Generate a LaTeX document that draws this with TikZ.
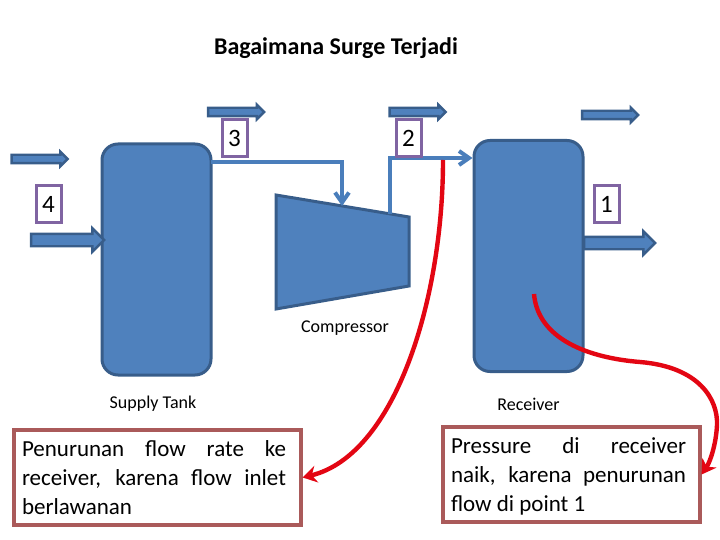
\documentclass[tikz,border=0pt]{standalone}
\usepackage{fontspec}
\setmainfont{Carlito}
\usetikzlibrary{arrows.meta,shapes.arrows}
\definecolor{tkblue}{HTML}{4F81BD}
\definecolor{tkedge}{HTML}{385D8A}
\definecolor{pipeblue}{HTML}{4A7EBB}
\definecolor{lblpurple}{HTML}{8064A2}
\definecolor{noteedge}{HTML}{AA5A5A}
\definecolor{curvered}{HTML}{E30613}

\begin{document}
\begin{tikzpicture}[x=1pt,y=-1pt,
      tank/.style={rounded corners=16pt,draw=tkedge,fill=tkblue,line width=3pt,
                  minimum width=109pt,minimum height=231pt},
      numbox/.style={draw=lblpurple,fill=white,line width=3pt,minimum width=25pt,
                  minimum height=37pt,inner sep=0pt,font=\fontsize{25}{25}\selectfont},
      note/.style={draw=noteedge,fill=white,line width=3.2pt,inner sep=0pt},
      unitname/.style={font=\fontsize{18}{18}\selectfont,inner sep=0pt},
      flowbig/.style={single arrow,draw=tkedge,fill=tkblue,line width=2.4pt,inner xsep=0pt,
                  inner ysep=5pt,minimum width=21pt,single arrow head extend=5.5pt,
                  single arrow head indent=0pt},
      flowthin/.style={single arrow,draw=tkedge,fill=tkblue,line width=2.4pt,inner xsep=0pt,
                  inner ysep=3pt,minimum width=12pt,minimum height=56pt,
                  single arrow head extend=3pt,single arrow head indent=0pt},
      pipe/.style={draw=pipeblue,line width=4pt,-{Straight Barb[length=10pt,width=14pt]}},
      redarr/.style={draw=curvered,line width=4.4pt,-{Stealth[length=14pt,width=17pt]}}]
    \useasboundingbox (0,0) rectangle (720,540);
    \node[font=\bfseries\fontsize{24}{24}\selectfont,inner sep=0pt] (title) at (336,48.5) {Bagaimana Surge Terjadi};
    \node[tank] (supply) at (156.5,259.5) {};
    \node[tank] (recv) at (528.5,256) {};
    \draw[draw=tkedge,fill=tkblue,line width=3pt] (276,195) -- (409,217) -- (409,286) -- (276,309) -- cycle;
    \coordinate (compin) at (342,206);
    \coordinate (compout) at (390,214);
    \coordinate (supout) at (211,162);
    \coordinate (curvestart) at (443,160);
    \coordinate (rcvpoint) at (534,294);
    \node[flowthin] (fl4) at (37.5,159) {};
    \node[flowthin] (fl3) at (234,112) {};
    \node[flowthin] (fl2) at (415.5,112) {};
    \node[flowthin] (fl1) at (608,115) {};
    \node[flowbig,minimum height=73pt] (in4) at (64.5,240) {};
    \node[flowbig,minimum height=71pt] (out1) at (616.5,243) {};
    \draw[pipe] (supout) -| (compin);
    \draw[pipe] (compout) |- (recv.west |- 0,158);
    \node[numbox] (n3) at (234.5,138.5) {3};
    \node[numbox] (n2) at (408.5,138) {2};
    \node[numbox] (n4) at (48.5,204.5) {4};
    \node[numbox] (n1) at (606.5,204) {1};
    \node[unitname] (compname) at (345,328) {Compressor};
    \node[unitname] (supname) at (153,404) {Supply Tank};
    \node[unitname] (recname) at (528.5,404) {Receiver};
    \node[note,minimum width=287pt,minimum height=95pt] (leftnote) at (157.5,477.5)
      {\hspace*{-3.5pt}\parbox{264pt}{\fontsize{23}{29}\selectfont Penurunan flow rate ke\linebreak receiver, karena flow inlet\linebreak berlawanan}\hspace*{3.5pt}};
    \node[note,minimum width=257pt,minimum height=95pt] (rightnote) at (571.5,474.5)
      {\hspace*{-3pt}\parbox{235pt}{\vspace*{4pt}\fontsize{23}{29}\selectfont Pressure di receiver\linebreak naik, karena penurunan\linebreak flow di point 1}\hspace*{3pt}};
    \draw[redarr] (curvestart) .. controls (443,300) and (395,455) .. (leftnote.east);
    \draw[redarr] (rcvpoint) .. controls (538,340) and (590,358) .. (640,362)
      .. controls (700,367) and (718,400) .. (717,425)
      .. controls (716,445) and (710,462) .. (rightnote.east);
  \end{tikzpicture}
\end{document}
